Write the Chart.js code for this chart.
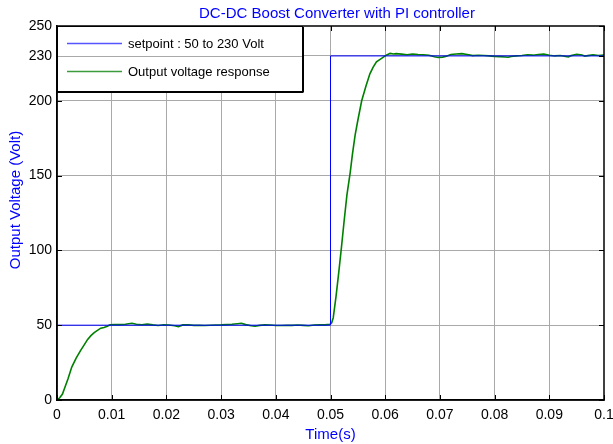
<!DOCTYPE html>
<html>
<head>
<meta charset="utf-8">
<script src="https://cdn.jsdelivr.net/npm/chart.js@4/dist/chart.umd.min.js"></script>
<style>
  body { margin: 0; background: #fff; overflow: hidden; }
  canvas { display: block; }
</style>
</head>
<body>
<canvas id="boostChart" width="613" height="444"></canvas>
<script>
// values
const xTicks = [0, 0.01, 0.02, 0.03, 0.04, 0.05, 0.06, 0.07, 0.08, 0.09, 0.1];
const xLabels = ['0', '0.01', '0.02', '0.03', '0.04', '0.05', '0.06', '0.07', '0.08', '0.09', '0.1'];
const yTicks = [0, 50, 100, 150, 200, 230, 250];

const seriesNames = ['setpoint : 50 to 230 Volt', 'Output voltage response'];
const seriesColors = ['#0000ff', '#008000'];
const legendColors = ['#5555ff', '#3c9c3c'];

const setpointTime = [0, 0.05, 0.05, 0.1];
const setpointVolt = [50, 50, 230, 230];

const outTime = [
  0, 0.0005, 0.001, 0.0015, 0.002, 0.0027, 0.0035, 0.0043, 0.005, 0.0056, 0.0062, 0.0068, 0.0074, 0.008, 0.0086, 0.0092, 0.0097,
  0.0105, 0.0115, 0.0125, 0.0137, 0.0145, 0.0155, 0.0165, 0.0175, 0.0185, 0.0195, 0.0205, 0.0215, 0.0222, 0.023, 0.024, 0.025, 0.026, 0.027, 0.028, 0.029, 0.030,
  0.031, 0.032, 0.033, 0.0337, 0.0345, 0.0355, 0.0362, 0.037, 0.038, 0.039, 0.040, 0.041, 0.042, 0.043, 0.044, 0.045, 0.046, 0.047, 0.048, 0.049, 0.0499,
  0.0502, 0.0505, 0.051, 0.0515, 0.052, 0.0525, 0.053, 0.0536, 0.054, 0.0545, 0.055, 0.0557, 0.0565, 0.0572, 0.0578, 0.0584, 0.059, 0.0596, 0.0602, 0.0609, 0.0615,
  0.062, 0.063, 0.064, 0.065, 0.066, 0.067, 0.068, 0.069, 0.0697, 0.0705, 0.0712, 0.072, 0.073, 0.074, 0.075, 0.076, 0.077, 0.078, 0.079, 0.080, 0.081, 0.082,
  0.0825, 0.083, 0.084, 0.085, 0.086, 0.087, 0.088, 0.089, 0.090, 0.091, 0.092, 0.093, 0.0935, 0.094, 0.095, 0.096, 0.0965, 0.097, 0.098, 0.099, 0.1
];
const outVolt = [
  0, 1.5, 4, 9, 14, 22, 28, 33, 37, 40.5, 43, 45, 46.5, 48, 48.5, 49.3, 50.3,
  50.5, 50.4, 50.6, 51.3, 50.6, 50.3, 50.7, 50.2, 49.8, 50.3, 50.1, 49.6, 49.1, 50.2, 50.3, 49.9, 50.0, 49.8, 50.0, 50.1, 50.2,
  50.4, 50.6, 51.0, 51.3, 50.4, 49.6, 49.3, 49.9, 50.2, 50.1, 49.8, 49.8, 50.0, 49.9, 50.1, 49.9, 49.6, 50.1, 50.3, 50.2, 50.6,
  51.5, 55, 69, 85, 102, 120, 137, 152, 164, 177, 187, 200, 210, 218, 222.5, 226, 227.5, 229, 230.5, 231.7, 231.3,
  231.5, 231.2, 230.8, 231.3, 231.0, 230.8, 230.5, 229.5, 229.0, 229.2, 229.8, 231.0, 231.3, 231.5, 231.0, 230.2, 230.4, 230.3, 230.0, 229.7, 229.5, 229.3,
  229.1, 229.6, 230.0, 230.3, 230.8, 230.5, 231.0, 231.2, 230.5, 230.0, 230.3, 229.6, 229.3, 230.2, 231.1, 230.6, 229.8, 230.2, 230.7, 230.3, 230.5
];

const FONT = "'Liberation Sans', Arial, sans-serif";

function pairs(xs, ys) {
  return xs.map((x, i) => ({ x: x, y: ys[i] }));
}

// title, axis labels, legend, inner tick marks, axes box
const matlabLook = {
  id: 'matlabLook',
  afterDraw(chart) {
    const c = chart.ctx;
    const a = chart.chartArea;
    const xs = chart.scales.x, ys = chart.scales.y;
    c.save();

    // inner tick marks
    c.strokeStyle = '#000';
    c.lineWidth = 1;
    c.beginPath();
    xTicks.forEach(t => {
      const px = Math.round(xs.getPixelForValue(t)) + 0.5;
      c.moveTo(px, a.bottom); c.lineTo(px, a.bottom - 5);
      c.moveTo(px, a.top); c.lineTo(px, a.top + 5);
    });
    yTicks.forEach(t => {
      const py = Math.round(ys.getPixelForValue(t)) + 0.5;
      c.moveTo(a.left, py); c.lineTo(a.left + 5, py);
      c.moveTo(a.right, py); c.lineTo(a.right - 5, py);
    });
    c.stroke();

    // legend box
    const lx = a.left, ly = a.top, lw = 245, lh = 65;
    c.fillStyle = '#fff';
    c.fillRect(lx, ly, lw, lh);
    const g230 = Math.round(ys.getPixelForValue(230)) + 0.5;
    c.strokeStyle = '#a9a9a9';
    c.beginPath(); c.moveTo(lx, g230); c.lineTo(lx + lw, g230); c.stroke();
    c.strokeStyle = '#000';
    c.lineWidth = 1;
    c.strokeRect(lx + 0.5, ly + 0.5, lw, lh);
    c.lineWidth = 2;
    c.beginPath();
    c.moveTo(lx + lw + 1, ly + 1); c.lineTo(lx + lw + 1, ly + lh + 1.5);
    c.moveTo(lx, ly + lh + 1); c.lineTo(lx + lw + 1, ly + lh + 1);
    c.stroke();

    // legend entries
    c.font = '13px ' + FONT;
    c.textBaseline = 'middle';
    c.textAlign = 'left';
    for (let i = 0; i < seriesNames.length; i++) {
      const yy = ly + 17.5 + i * 28;
      c.beginPath();
      c.lineWidth = 1.5;
      c.strokeStyle = legendColors[i];
      c.moveTo(lx + 10, yy);
      c.lineTo(lx + 65, yy);
      c.stroke();
      c.fillStyle = '#000';
      c.fillText(seriesNames[i], lx + 71, yy + 1);
    }

    // axes box
    c.strokeStyle = '#000';
    c.lineWidth = 1.5;
    c.strokeRect(a.left, a.top, a.right - a.left, a.bottom - a.top);

    // title and axis labels
    c.fillStyle = '#0000ff';
    c.font = '15px ' + FONT;
    c.textAlign = 'center';
    c.textBaseline = 'middle';
    c.fillText('DC-DC Boost Converter with PI controller', 337, 14);
    c.fillText('Time(s)', (a.left + a.right) / 2, 435);
    c.translate(16, 200);
    c.rotate(-Math.PI / 2);
    c.fillText('Output Voltage (Volt)', 0, 0);
    c.restore();
  }
};

new Chart(document.getElementById('boostChart'), {
  type: 'line',
  data: {
    datasets: [{
      label: seriesNames[0],
      data: pairs(setpointTime, setpointVolt),
      borderColor: seriesColors[0],
      borderWidth: 1,
      pointRadius: 0,
      tension: 0
    }, {
      label: seriesNames[1],
      data: pairs(outTime, outVolt),
      borderColor: seriesColors[1],
      borderWidth: 1.6,
      pointRadius: 0,
      tension: 0
    }]
  },
  options: {
    responsive: false,
    animation: false,
    layout: { padding: { top: 26, right: 9, bottom: 0, left: 0 } },
    plugins: {
      legend: { display: false },
      title: { display: false },
      tooltip: { enabled: false }
    },
    scales: {
      x: {
        type: 'linear',
        min: 0,
        max: 0.1,
        afterBuildTicks: axis => { axis.ticks = xTicks.map(v => ({ value: v })); },
        afterFit: axis => { axis.height = 44; axis.paddingLeft = 0; axis.paddingRight = 0; },
        grid: {
          color: g => (g.tick && (g.tick.value === 0 || g.tick.value === 0.1)) ? 'rgba(0,0,0,0)' : '#a9a9a9',
          drawTicks: false,
          lineWidth: 1
        },
        border: { color: '#000', width: 1.5 },
        ticks: {
          autoSkip: false,
          maxRotation: 0,
          padding: 7,
          color: '#000',
          font: { family: FONT, size: 14 },
          callback: (v, i) => xLabels[i]
        }
      },
      y: {
        type: 'linear',
        min: 0,
        max: 250,
        afterBuildTicks: axis => { axis.ticks = yTicks.map(v => ({ value: v })); },
        afterFit: axis => { axis.width = 57; axis.paddingTop = 0; axis.paddingBottom = 0; },
        grid: {
          color: g => (g.tick && (g.tick.value === 0 || g.tick.value === 250)) ? 'rgba(0,0,0,0)' : '#a9a9a9',
          drawTicks: false,
          lineWidth: 1
        },
        border: { color: '#000', width: 1.5 },
        ticks: {
          padding: 5,
          color: '#000',
          font: { family: FONT, size: 14 },
          callback: v => String(v)
        }
      }
    }
  },
  plugins: [matlabLook]
});
</script>
</body>
</html>
